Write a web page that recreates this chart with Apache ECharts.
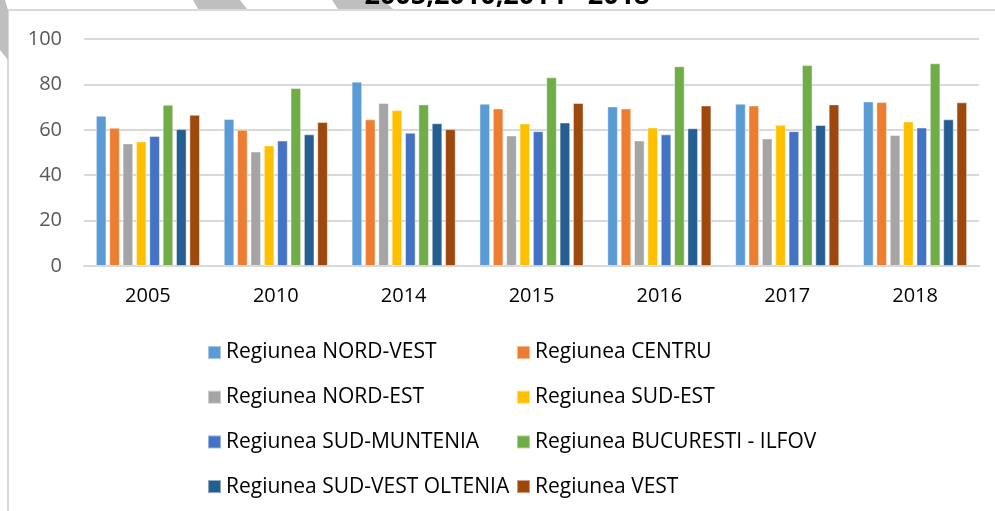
<!DOCTYPE html>
<html>
<head>
<meta charset="utf-8">
<script src="https://cdn.jsdelivr.net/npm/echarts@6/dist/echarts.min.js"></script>
<style>
  html, body { margin: 0; padding: 0; background: #fff; }
  #chart { width: 995px; height: 511px; }
</style>
</head>
<body>
<div id="chart"></div>
<script>
const years = ['2005', '2010', '2014', '2015', '2016', '2017', '2018'];
const yTicks = [0, 20, 40, 60, 80, 100];

const nordVest = [66.2, 64.8, 81.2, 71.5, 70.3, 71.5, 72.5];
const centru = [60.9, 60.0, 64.6, 69.4, 69.4, 70.7, 72.2];
const nordEst = [54.0, 50.4, 71.8, 57.5, 55.3, 56.2, 57.7];
const sudEst = [54.9, 53.1, 68.7, 62.8, 61.0, 62.2, 63.7];
const sudMuntenia = [57.3, 55.3, 58.7, 59.4, 58.0, 59.4, 61.0];
const bucurestiIlfov = [71.0, 78.4, 71.2, 83.1, 88.0, 88.5, 89.3];
const sudVestOltenia = [60.3, 58.0, 62.9, 63.2, 60.7, 62.1, 64.6];
const vest = [66.6, 63.4, 60.3, 71.8, 70.7, 71.2, 72.1];

const seriesDefs = [
  { name: 'Regiunea NORD-VEST', data: nordVest, color: '#5B9BD5' },
  { name: 'Regiunea CENTRU', data: centru, color: '#ED7D31' },
  { name: 'Regiunea NORD-EST', data: nordEst, color: '#A5A5A5' },
  { name: 'Regiunea SUD-EST', data: sudEst, color: '#FFC000' },
  { name: 'Regiunea SUD-MUNTENIA', data: sudMuntenia, color: '#4472C4' },
  { name: 'Regiunea BUCURESTI - ILFOV', data: bucurestiIlfov, color: '#70AD47' },
  { name: 'Regiunea SUD-VEST OLTENIA', data: sudVestOltenia, color: '#255E91' },
  { name: 'Regiunea VEST', data: vest, color: '#9E480E' }
];

const chart = echarts.init(document.getElementById('chart'));

const legendText = { fontFamily: 'Open Sans', fontSize: 21, color: '#000', lineHeight: 21 };
const legendCommon = {
  orient: 'vertical',
  top: 342,
  padding: 0,
  itemWidth: 13,
  itemHeight: 13,
  itemGap: 23.7,
  icon: 'rect',
  textStyle: legendText,
  selectedMode: false
};

chart.setOption({
  animation: false,
  grid: { left: 84, right: 16, top: 39, bottom: 245 },
  xAxis: {
    type: 'category',
    data: years,
    axisLine: { lineStyle: { color: '#d9d9d9', width: 2 } },
    axisTick: { show: false },
    axisLabel: { fontFamily: 'Open Sans', fontSize: 20, color: '#000', margin: 20 }
  },
  yAxis: {
    type: 'value',
    min: yTicks[0],
    max: yTicks[yTicks.length - 1],
    interval: 20,
    axisLine: { show: false },
    axisTick: { show: false },
    splitLine: { lineStyle: { color: '#d9d9d9', width: 2 } },
    axisLabel: { fontFamily: 'Open Sans', fontSize: 20, color: '#595959', margin: 22 }
  },
  legend: [
    Object.assign({ left: 207, data: [seriesDefs[0].name, seriesDefs[2].name, seriesDefs[4].name, seriesDefs[6].name] }, legendCommon),
    Object.assign({ left: 516, data: [seriesDefs[1].name, seriesDefs[3].name, seriesDefs[5].name, seriesDefs[7].name] }, legendCommon)
  ],
  series: seriesDefs.map(s => ({
    name: s.name,
    type: 'bar',
    data: s.data,
    barWidth: 10.6,
    barGap: '26%',
    itemStyle: { color: s.color, borderColor: 'rgba(255,255,255,0.45)', borderWidth: 1 }
  })),
  graphic: [
    { type: 'rect', shape: { x: 8, y: 9, width: 987, height: 2 }, style: { fill: '#d9d9d9' }, z: 1 },
    { type: 'rect', shape: { x: 7, y: 10, width: 2, height: 501 }, style: { fill: '#d9d9d9' }, z: 1 },
    { type: 'polygon', shape: { points: [[0, 0], [5, 0], [8, 10], [8, 60], [0, 50]] }, style: { fill: '#bfbfbf' }, z: 2 },
    { type: 'polygon', shape: { points: [[193, 0], [240, 0], [247, 9], [198, 9]] }, style: { fill: '#bfbfbf' }, z: 2 },
    { type: 'polygon', shape: { points: [[332, 0], [383, 0], [393, 9], [338, 9]] }, style: { fill: '#bfbfbf' }, z: 2 },
    {
      type: 'text', x: 507, y: -4, z: 3,
      style: {
        text: '2005,2010,2014 - 2018',
        fontFamily: 'Open Sans', fontWeight: 'bold', fontSize: 27,
        fill: '#000', align: 'center', verticalAlign: 'middle'
      }
    }
  ]
});
</script>
</body>
</html>
